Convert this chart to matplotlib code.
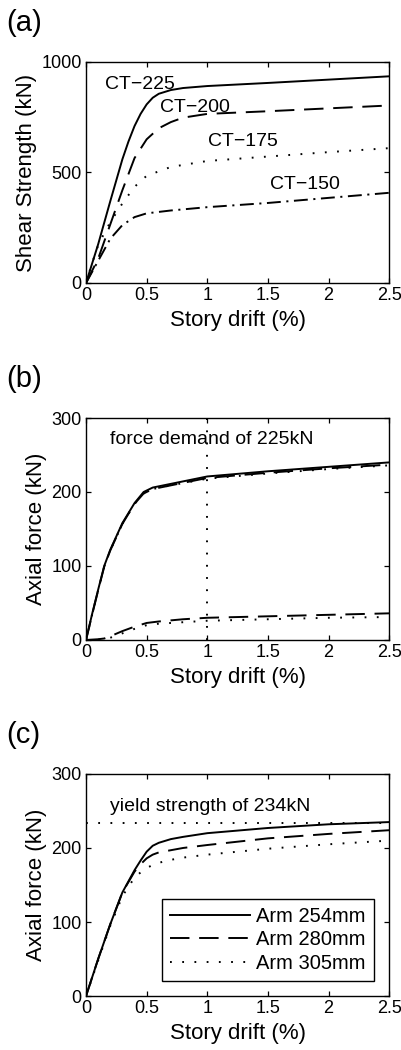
import matplotlib
matplotlib.use('Agg')
import matplotlib.pyplot as plt
import numpy as np

plt.rcParams['font.family'] = ['Liberation Sans', 'DejaVu Sans']
plt.rcParams['lines.scale_dashes'] = False

# ---- panel (a): shear strength vs drift
drift_225 = [0, 0.1, 0.2, 0.3, 0.35, 0.4, 0.45, 0.5, 0.55, 0.6, 0.7, 0.8, 1.0, 1.5, 2.0, 2.5]
shear_225 = [0, 175, 370, 560, 640, 710, 765, 808, 838, 856, 873, 882, 891, 905, 920, 935]
drift_200 = [0, 0.1, 0.2, 0.3, 0.4, 0.5, 0.6, 0.7, 0.8, 1.0, 1.5, 2.0, 2.5]
shear_200 = [0, 110, 265, 420, 565, 650, 700, 728, 748, 765, 777, 790, 803]
drift_175 = [0, 0.05, 0.1, 0.15, 0.2, 0.3, 0.4, 0.5, 0.7, 1.0, 1.5, 2.0, 2.5]
shear_175 = [0, 90, 170, 225, 275, 360, 435, 485, 525, 552, 572, 592, 610]
drift_150 = [0, 0.1, 0.2, 0.3, 0.4, 0.5, 0.7, 1.0, 1.5, 2.0, 2.5]
shear_150 = [0, 100, 200, 262, 298, 315, 328, 343, 362, 385, 408]
labels_a = ['CT\u2212225', 'CT\u2212200', 'CT\u2212175', 'CT\u2212150']

# ---- panel (b): axial force vs drift
drift_b = [0, 0.05, 0.1, 0.15, 0.2, 0.3, 0.4, 0.475, 0.55, 0.7, 1.0, 1.5, 2.0, 2.5]
axial_b_solid = [0, 35, 68, 100, 122, 158, 185, 200, 206, 211, 221, 228, 234, 240]
axial_b_dash = [0, 34, 67, 99, 121, 157, 184, 198, 204, 209, 219, 226, 232, 237]
axial_b_dot = [0, 34, 67, 99, 121, 157, 184, 198, 204, 209, 218, 225, 231, 236]
drift_b_low = [0, 0.1, 0.15, 0.2, 0.3, 0.4, 0.5, 0.6, 0.8, 1.0, 1.5, 2.0, 2.5]
axial_b_low_dash = [0, 1, 2, 5, 12, 18, 23, 25, 28, 30, 32, 34, 36]
axial_b_low_dot = [0, 0.5, 1, 3, 9, 15, 20, 22, 24, 26, 28, 30, 31]
demand_drift = 1.0

# ---- panel (c): axial force for different arm lengths
drift_c = [0, 0.1, 0.2, 0.3, 0.4, 0.45, 0.5, 0.55, 0.6, 0.7, 0.8, 1.0, 1.5, 2.0, 2.5]
arm_254 = [0, 50, 97, 140, 170, 183, 195, 203, 207, 212, 215, 220, 227, 232, 235]
arm_280 = [0, 50, 97, 140, 168, 178, 186, 191, 194, 197, 200, 204, 213, 219, 224]
arm_305 = [0, 48, 95, 135, 160, 167, 173, 177, 180, 184, 187, 191, 199, 205, 210]
arm_labels = ['Arm 254mm', 'Arm 280mm', 'Arm 305mm']
yield_strength = 234

dash = (0, (14, 7))
dot = (0, (1.3, 7.5))
dashdot = (0, (10, 4, 1.5, 4))
lw = 1.4

fig = plt.figure(figsize=(4.02, 10.5), dpi=100)
ax_a = fig.add_axes([0.214, 0.7305, 0.754, 0.2105])
ax_b = fig.add_axes([0.214, 0.3905, 0.754, 0.2114])
ax_c = fig.add_axes([0.214, 0.0514, 0.754, 0.2115])

ax_a.plot(drift_225, shear_225, color='black', lw=lw, linestyle='-')
ax_a.plot(drift_200, shear_200, color='black', lw=lw, linestyle=dash)
ax_a.plot(drift_175, shear_175, color='black', lw=lw, linestyle=dot)
ax_a.plot(drift_150, shear_150, color='black', lw=lw, linestyle=dashdot)
text_pos_a = [(0.16, 900), (0.61, 795), (1.01, 642), (1.52, 446)]
for lab, (tx, ty) in zip(labels_a, text_pos_a):
    ax_a.text(tx, ty, lab, fontsize=14, va='center', ha='left')
ax_a.set_ylim(0, 1000)
ax_a.set_yticks([0, 500, 1000])
ax_a.set_ylabel('Shear Strength (kN)', fontsize=16, labelpad=3)

ax_b.plot(drift_b, axial_b_solid, color='black', lw=lw, linestyle='-')
ax_b.plot(drift_b, axial_b_dash, color='black', lw=lw, linestyle=dash)
ax_b.plot(drift_b, axial_b_dot, color='black', lw=lw, linestyle=dot)
ax_b.plot(drift_b_low, axial_b_low_dash, color='black', lw=lw, linestyle=dash)
ax_b.plot(drift_b_low, axial_b_low_dot, color='black', lw=lw, linestyle=dot)
ax_b.axvline(demand_drift, color='black', lw=lw, linestyle=dot)
ax_b.text(0.2, 271, 'force demand of 225kN', fontsize=14, va='center', ha='left')
ax_b.set_ylim(0, 300)
ax_b.set_yticks([0, 100, 200, 300])
ax_b.set_ylabel('Axial force (kN)', fontsize=16, labelpad=3)

ax_c.plot(drift_c, arm_254, color='black', lw=lw, linestyle='-', label=arm_labels[0])
ax_c.plot(drift_c, arm_280, color='black', lw=lw, linestyle=dash, label=arm_labels[1])
ax_c.plot(drift_c, arm_305, color='black', lw=lw, linestyle=dot, label=arm_labels[2])
ax_c.axhline(yield_strength, color='black', lw=lw, linestyle=dot)
ax_c.text(0.2, 256, 'yield strength of 234kN', fontsize=14, va='center', ha='left')
ax_c.set_ylim(0, 300)
ax_c.set_yticks([0, 100, 200, 300])
ax_c.set_ylabel('Axial force (kN)', fontsize=16, labelpad=3)
leg = ax_c.legend(loc='lower right', fontsize=14.5, handlelength=4.0, handletextpad=0.3,
                  labelspacing=0.22, borderpad=0.4, fancybox=False, framealpha=1,
                  edgecolor='black', borderaxespad=0.75)
leg.get_frame().set_linewidth(1.0)

for ax, tag in zip([ax_a, ax_b, ax_c], ['(a)', '(b)', '(c)']):
    ax.set_xlim(0, 2.5)
    ax.set_xticks([0, 0.5, 1, 1.5, 2, 2.5])
    ax.set_xticklabels(['0', '0.5', '1', '1.5', '2', '2.5'])
    ax.set_xlabel('Story drift (%)', fontsize=16, labelpad=4)
    ax.tick_params(direction='in', top=True, right=True, length=3.5, width=0.9,
                   labelsize=13, pad=3)
    for sp in ax.spines.values():
        sp.set_linewidth(1.0)
    bb = ax.get_position()
    fig.text(0.015, bb.y1 + 0.037, tag, fontsize=21, va='center', ha='left')

fig.savefig('out.png', dpi=100)
plt.close(fig)
